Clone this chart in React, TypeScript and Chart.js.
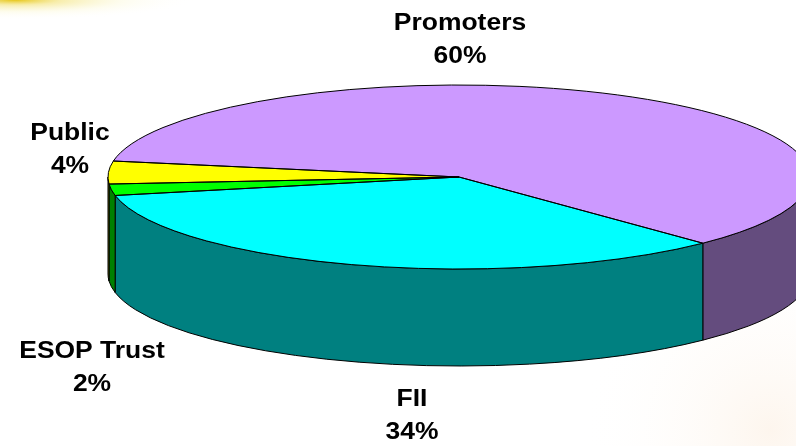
import { useEffect, useRef } from "react";
import { Chart, registerables } from "chart.js";

Chart.register(...registerables);

// Shareholding pattern
const categories = ["Promoters", "FII", "ESOP Trust", "Public"];
const shares = [60, 34, 2, 4];

// Top faces and their darker side walls
const topColors = ["#CC99FF", "#00FFFF", "#00FF00", "#FFFF00"];
const sideColors = ["#644C7E", "#008080", "#008000", "#808000"];

// Label anchors: centre x and first-line baseline y
const labelAnchors: [number, number][] = [
  [460, 30],
  [412, 406],
  [92, 358],
  [70, 140],
];

const TWO_PI = Math.PI * 2;

// Parts of an angular span that face the viewer (the lower half of the ellipse)
function frontSpans(start: number, end: number): [number, number][] {
  const off = Math.floor(start / TWO_PI) * TWO_PI;
  const s = start - off;
  const e = end - off;
  const spans: [number, number][] = [];
  for (const k of [0, TWO_PI]) {
    const lo = Math.max(s, k);
    const hi = Math.min(e, k + Math.PI);
    if (hi > lo) spans.push([lo, hi]);
  }
  return spans;
}

const pie3d = {
  id: "pie3d",
  beforeDraw(chart: any) {
    const ctx = chart.ctx as CanvasRenderingContext2D;
    const { width, height } = chart;
    ctx.save();
    ctx.fillStyle = "#ffffff";
    ctx.fillRect(0, 0, width, height);
    // golden sheen in the top-left corner
    ctx.save();
    ctx.translate(15, 0);
    ctx.scale(9, 1);
    let g = ctx.createRadialGradient(0, 0, 0, 0, 0, 20);
    g.addColorStop(0, "rgba(228,192,0,0.9)");
    g.addColorStop(0.25, "rgba(240,220,90,0.5)");
    g.addColorStop(0.6, "rgba(250,245,190,0.25)");
    g.addColorStop(1, "rgba(255,255,255,0)");
    ctx.fillStyle = g;
    ctx.fillRect(-15, 0, 40, 20);
    ctx.restore();
    // faint warm watermark in the bottom-right corner
    g = ctx.createRadialGradient(770, 430, 0, 770, 430, 190);
    g.addColorStop(0, "rgba(250,228,205,0.35)");
    g.addColorStop(1, "rgba(255,255,255,0)");
    ctx.fillStyle = g;
    ctx.fillRect(560, 250, 236, 196);
    ctx.restore();
  },
  beforeDatasetsDraw(chart: any, _args: any, opts: any) {
    const arcs = chart.getDatasetMeta(0).data as any[];
    if (!arcs.length) return;
    const ctx = chart.ctx as CanvasRenderingContext2D;
    const { x: cx, y: cy, outerRadius: r } = arcs[0];
    const rx = r * opts.stretch;
    const ry = r;
    const d = opts.depth;
    ctx.save();
    ctx.lineWidth = 1;
    ctx.strokeStyle = "#000000";
    ctx.lineJoin = "round";
    arcs.forEach((arc, i) => {
      for (const [s, e] of frontSpans(arc.startAngle, arc.endAngle)) {
        ctx.beginPath();
        ctx.ellipse(cx, cy, rx, ry, 0, s, e);
        ctx.ellipse(cx, cy + d, rx, ry, 0, e, s, true);
        ctx.closePath();
        ctx.fillStyle = sideColors[i];
        ctx.fill();
        ctx.stroke();
      }
    });
    ctx.restore();
    // the top face is the library's own pie, stretched into an ellipse
    ctx.save();
    ctx.translate(cx, cy);
    ctx.scale(opts.stretch, 1);
    ctx.translate(-cx, -cy);
  },
  afterDatasetsDraw(chart: any, _args: any, opts: any) {
    const ctx = chart.ctx as CanvasRenderingContext2D;
    ctx.restore();
    const arcs = chart.getDatasetMeta(0).data as any[];
    if (!arcs.length) return;
    const { x: cx, y: cy, outerRadius: r } = arcs[0];
    const rx = r * opts.stretch;
    const ry = r;
    ctx.save();
    ctx.lineWidth = 1;
    ctx.strokeStyle = "#000000";
    ctx.lineJoin = "round";
    arcs.forEach((arc) => {
      ctx.beginPath();
      ctx.moveTo(cx, cy);
      ctx.ellipse(cx, cy, rx, ry, 0, arc.startAngle, arc.endAngle);
      ctx.closePath();
      ctx.stroke();
    });
    // category labels with their shares
    ctx.fillStyle = "#000000";
    ctx.textAlign = "center";
    ctx.textBaseline = "alphabetic";
    ctx.font = "bold 23px 'Liberation Sans', Arial, sans-serif";
    categories.forEach((name, i) => {
      const [lx, ly] = labelAnchors[i];
      const lines = [name, `${shares[i]}%`];
      lines.forEach((t, j) => {
        ctx.save();
        ctx.translate(lx, ly + j * 33);
        ctx.scale(1.15, 1);
        ctx.fillText(t, 0, 0);
        ctx.restore();
      });
    });
    ctx.restore();
  },
};

export default function App() {
  const canvasRef = useRef<HTMLCanvasElement | null>(null);

  useEffect(() => {
    document.body.style.margin = "0";
    const canvas = canvasRef.current;
    if (!canvas) return;
    const chart = new Chart(canvas, {
      type: "pie",
      data: {
        labels: categories,
        datasets: [
          {
            data: shares,
            backgroundColor: topColors,
            borderWidth: 0,
            clip: false,
          } as any,
        ],
      },
      options: {
        animation: false,
        responsive: true,
        maintainAspectRatio: false,
        devicePixelRatio: 1,
        events: [],
        rotation: 280,
        layout: { padding: { left: 367, right: 245, top: 85, bottom: 177 } },
        plugins: {
          legend: { display: false },
          tooltip: { enabled: false },
          title: { display: false },
          pie3d: { stretch: 351 / 92, depth: 97 },
        } as any,
      },
      plugins: [pie3d as any],
    });
    return () => chart.destroy();
  }, []);

  return (
    <div style={{ width: 796, height: 446, position: "relative" }}>
      <canvas ref={canvasRef} />
    </div>
  );
}
